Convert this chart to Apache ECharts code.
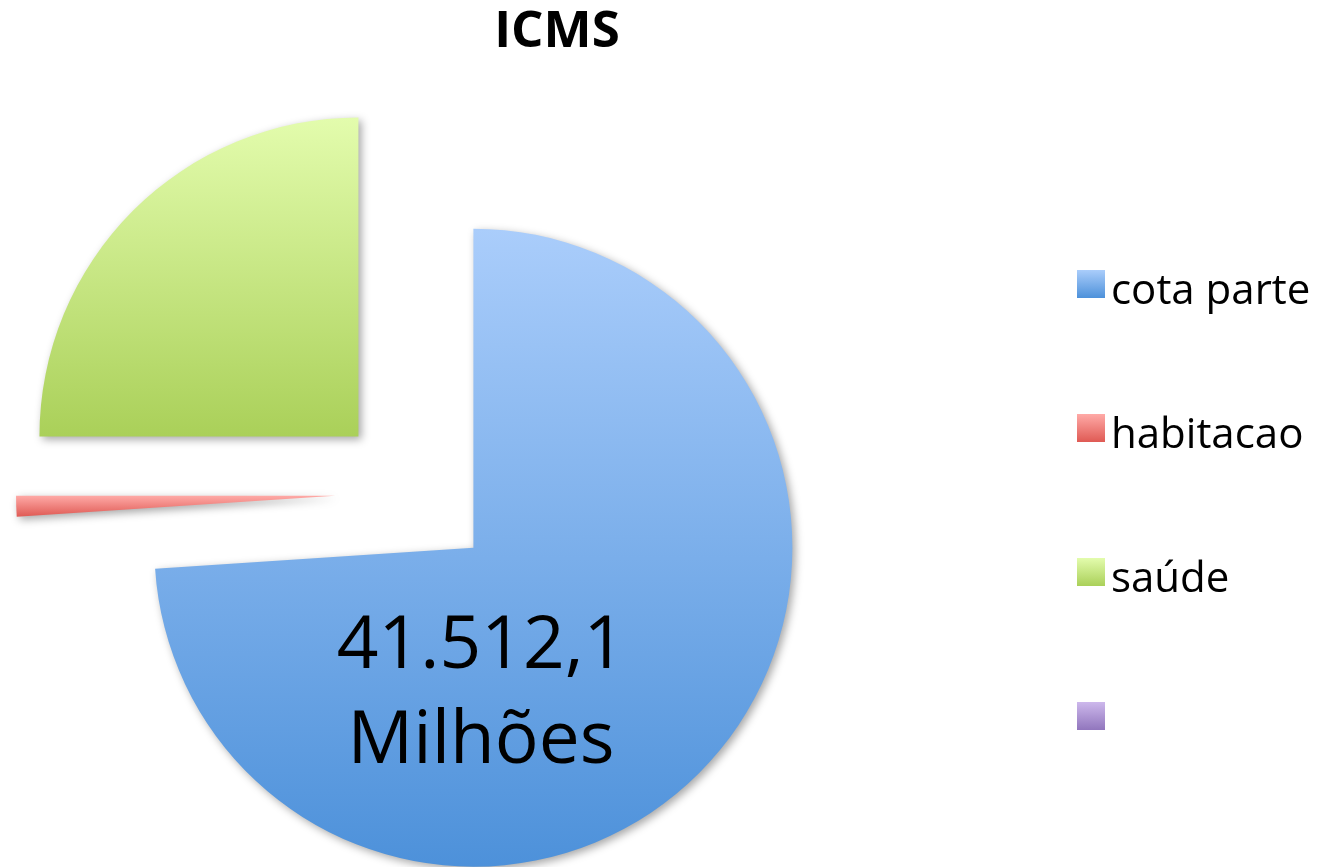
<!DOCTYPE html>
<html lang="pt">
<head>
    <meta charset="UTF-8">
    <title>ICMS</title>
    <script src="https://cdn.jsdelivr.net/npm/echarts@6/dist/echarts.min.js"></script>
    <style>
        html, body {
            margin: 0;
            padding: 0;
            background: #fff;
        }

        #chart {
            width: 1318px;
            height: 867px;
        }
    </style>
</head>
<body>
    <div id="chart"></div>

    <script>
        // valores em milhões
        const categorias = ['cota parte', 'habitacao', 'saúde', ' '];
        const valores = [41512.1, 590, 14034, 0];
        const mostrarRotulo = [true, false, false, false];
        // [topo, base] do degradê de cada fatia
        const cores = [
            ['#aacdfb', '#4d91da'],
            ['#ffaaa7', '#df5a54'],
            ['#e3fcad', '#aad059'],
            ['#cdb8ec', '#9176bd']
        ];

        function formatarBR(v) {
            const partes = v.toFixed(1).split('.');
            const inteiro = partes[0].replace(/\B(?=(\d{3})+(?!\d))/g, '.');
            return inteiro + ',' + partes[1];
        }

        const dados = categorias.map((nome, i) => ({
            name: nome,
            value: valores[i],
            selected: true,
            label: { show: mostrarRotulo[i] },
            itemStyle: {
                color: new echarts.graphic.LinearGradient(0, 0, 0, 1, [
                    { offset: 0, color: cores[i][0] },
                    { offset: 1, color: cores[i][1] }
                ])
            }
        }));

        const chart = echarts.init(document.getElementById('chart'));
        chart.setOption({
            animation: false,
            title: {
                text: 'ICMS',
                left: 552,
                top: 2,
                textAlign: 'center',
                textStyle: {
                    fontFamily: 'Open Sans',
                    fontWeight: 'bold',
                    fontSize: 51,
                    color: '#000'
                }
            },
            legend: {
                orient: 'vertical',
                left: 1072,
                top: 265,
                itemWidth: 28,
                itemHeight: 28,
                itemGap: 101,
                icon: 'rect',
                selectedMode: false,
                data: categorias,
                formatter: nome => '{t|' + nome + '}',
                textStyle: {
                    color: '#000',
                    rich: {
                        t: {
                            fontFamily: 'Open Sans',
                            fontSize: 42,
                            color: '#000',
                            padding: [16, 0, 0, 1]
                        }
                    }
                }
            },
            series: [{
                name: 'ICMS',
                type: 'pie',
                center: [415, 493],
                radius: 319,
                startAngle: 90,
                clockwise: true,
                selectedMode: 'multiple',
                selectedOffset: 80,
                avoidLabelOverlap: false,
                emphasis: { disabled: true },
                itemStyle: {
                    borderWidth: 0,
                    shadowBlur: 8,
                    shadowColor: 'rgba(0,0,0,0.35)',
                    shadowOffsetX: 3,
                    shadowOffsetY: 3
                },
                label: {
                    show: false,
                    position: 'inside',
                    // linha vazia no topo empurra o texto para baixo
                    formatter: p => '{s| }\n{v|' + formatarBR(p.value) + '}\n{v|Milhões}',
                    padding: [0, 222, 0, 0],
                    rich: {
                        s: { fontSize: 10, lineHeight: 72 },
                        v: {
                            fontFamily: 'Open Sans',
                            fontSize: 73,
                            lineHeight: 95,
                            color: '#000'
                        }
                    }
                },
                labelLine: { show: false },
                data: dados
            }]
        });
    </script>
</body>
</html>
